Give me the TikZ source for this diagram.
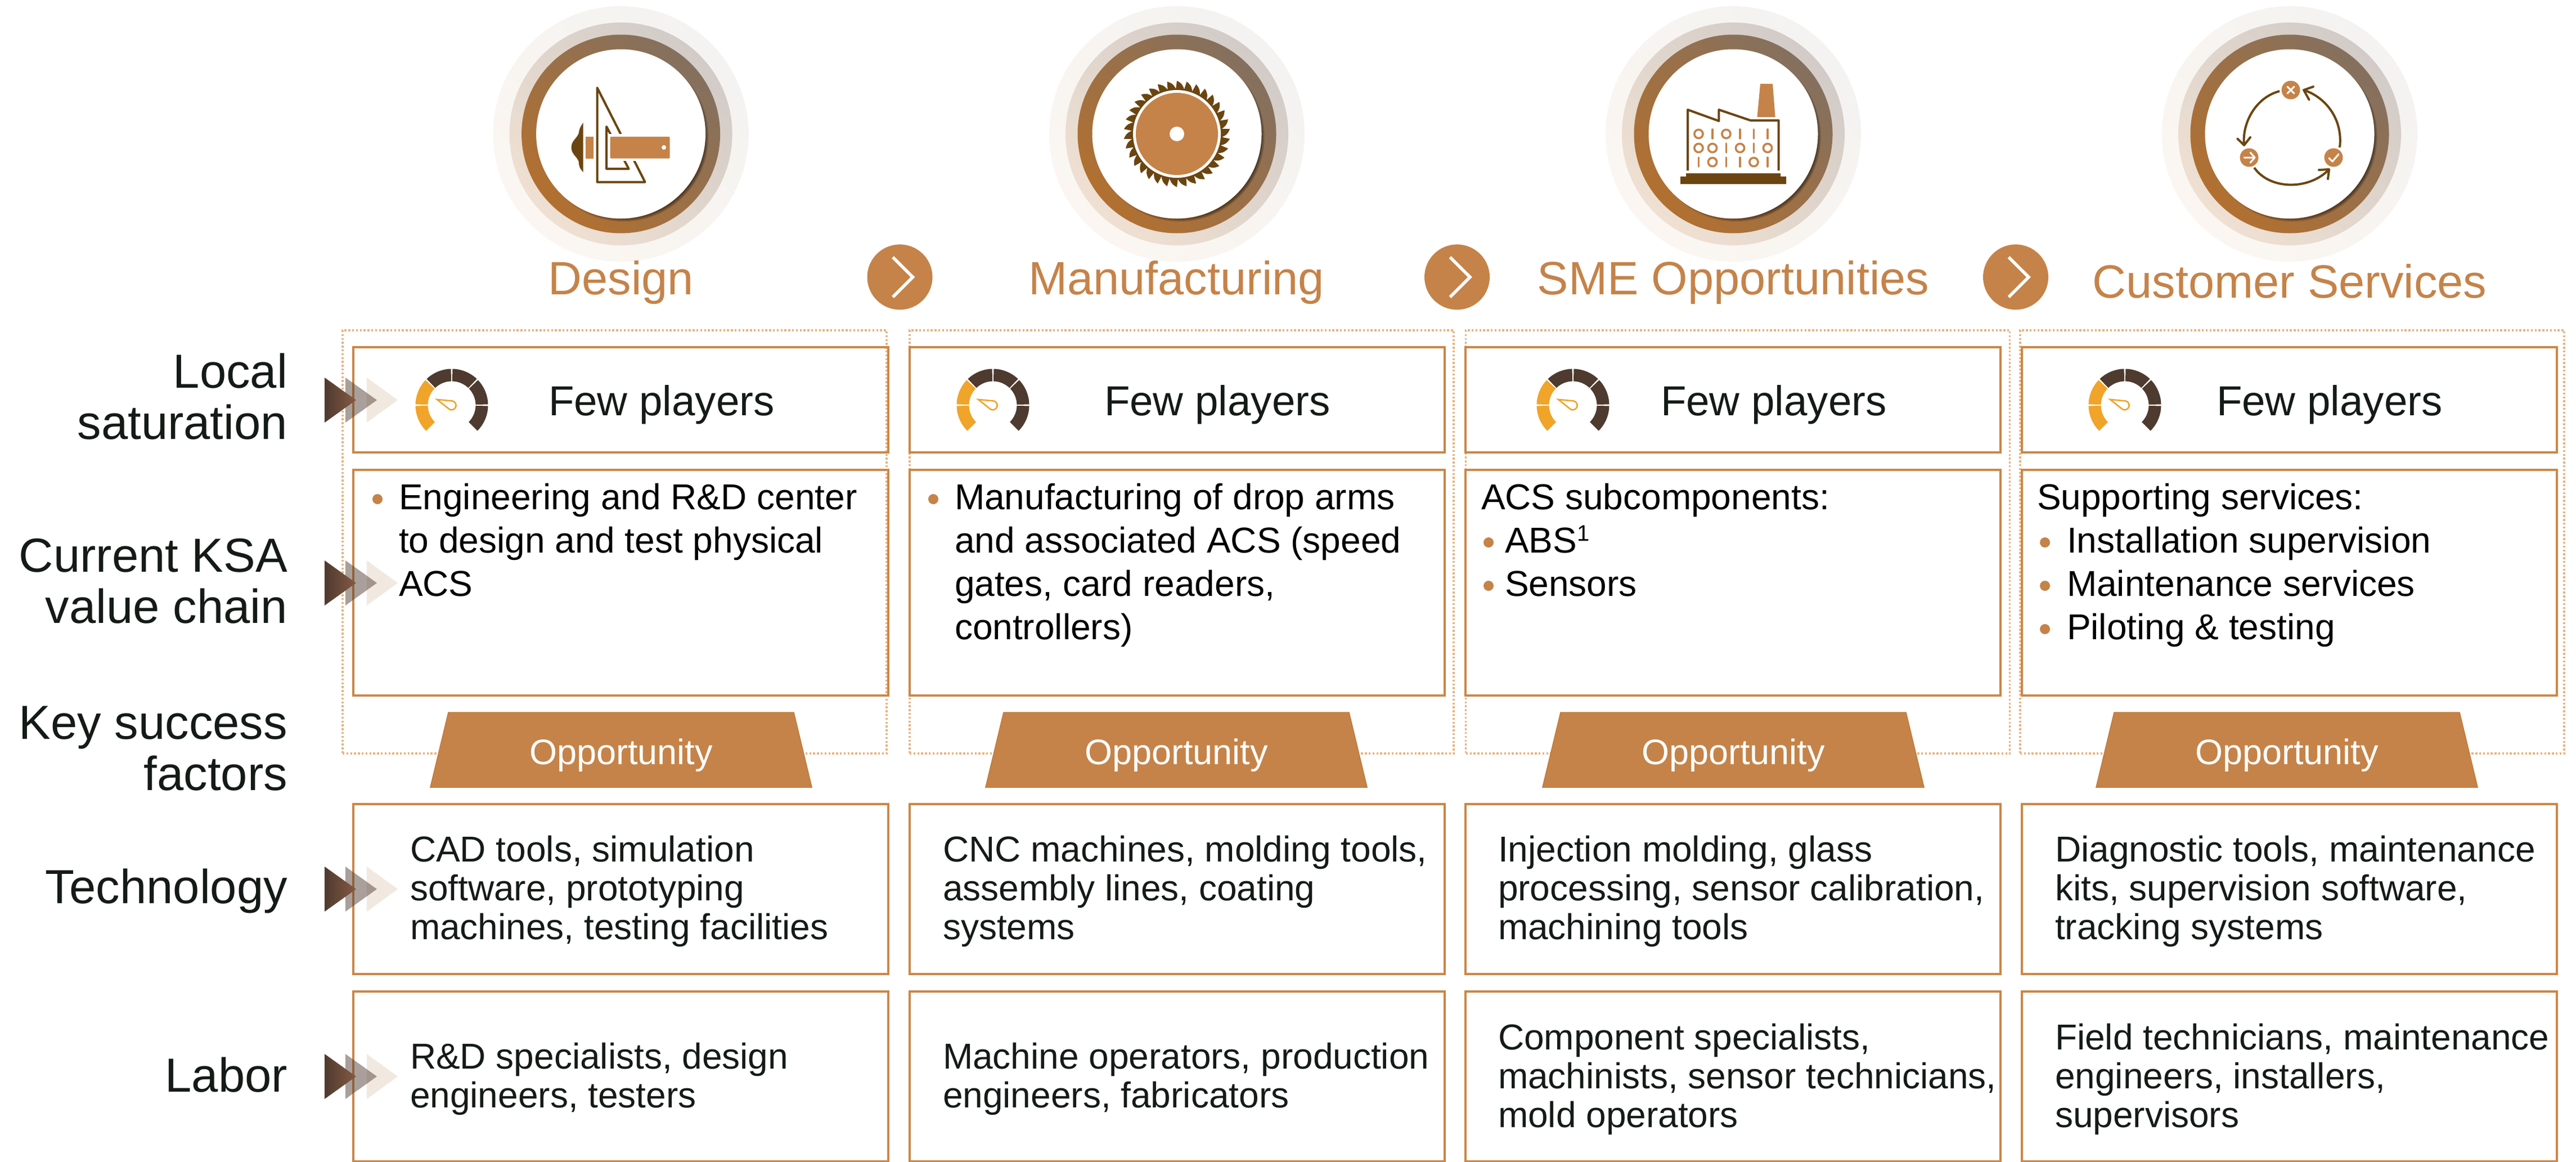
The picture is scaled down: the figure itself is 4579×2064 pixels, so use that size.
\documentclass[tikz,border=0pt]{standalone}
\usepackage{fontspec}
\setmainfont{Liberation Sans}
\definecolor{cOrange}{HTML}{C58349}
\definecolor{cLine}{HTML}{CB8748}
\definecolor{cDot}{HTML}{E9B27E}
\definecolor{cTrapEdge}{HTML}{C07A38}
\definecolor{cBrown}{HTML}{6B4510}
\definecolor{cInk}{HTML}{141B17}
\definecolor{cGaugeA}{HTML}{F0A42A}
\definecolor{cGaugeB}{HTML}{4E3A2E}
\definecolor{cRingOneA}{HTML}{F4F3F1}
\definecolor{cRingOneB}{HTML}{FBF6F1}
\definecolor{cRingTwoA}{HTML}{D2CBC7}
\definecolor{cRingTwoB}{HTML}{EFE0D2}
\definecolor{cRingThreeA}{HTML}{84705F}
\definecolor{cRingThreeB}{HTML}{B27030}
\definecolor{cChevA}{HTML}{4E3A2E}
\definecolor{cChevB}{HTML}{865A45}
\definecolor{cChevC}{HTML}{EFE6DB}
\tikzset{
  x=1pt,y=-1pt,
  cellbox/.style={draw=cLine,line width=3.5pt,anchor=north west,inner sep=0pt,outer sep=0pt,rectangle},
  dotbox/.style={draw=cDot,line width=3.2pt,dash pattern=on 3.4pt off 3.4pt,anchor=north west,inner sep=0pt,outer sep=0pt,rectangle},
  bodytext/.style={inner sep=0pt,outer sep=0pt,anchor=base west,align=left,text=cInk,font=\fontsize{64}{69}\selectfont},
  itemtext/.style={inner sep=0pt,outer sep=0pt,anchor=base west,align=left,text=black,font=\fontsize{64}{77}\selectfont},
  sidetext/.style={inner sep=0pt,outer sep=0pt,anchor=base east,align=right,text=cInk,font=\fontsize{85}{91}\selectfont},
  titletext/.style={inner sep=0pt,outer sep=0pt,anchor=base,text=cOrange,font=\fontsize{83}{90}\selectfont},
  fewtext/.style={inner sep=0pt,outer sep=0pt,anchor=base west,text=cInk,font=\fontsize{74.5}{80}\selectfont},
  opptext/.style={inner sep=0pt,outer sep=0pt,anchor=base,text=white,font=\fontsize{63}{70}\selectfont},
  nextdisc/.style={circle,fill=cOrange,minimum size=116pt,inner sep=0pt,outer sep=0pt},
  bulletdot/.style={fill=cOrange},
  iconline/.style={draw=cBrown,line width=4pt,line join=round,line cap=round},
}
% rings behind each icon
\newcommand{\ringset}[1]{%
  \shade[top color=cRingOneA,bottom color=cRingOneB,shading angle=-45] (#1,238) circle (227);
  \shade[top color=cRingTwoA,bottom color=cRingTwoB,shading angle=-45] (#1,238) circle (198);
  \shade[top color=cRingThreeA,bottom color=cRingThreeB,shading angle=-45] (#1,238) circle (176.5);
  \foreach \i in {0,...,8}{\fill[black,opacity=.09] (#1+5,243) circle ({143+\i});}
  \fill[white] (#1,238) circle (150.5);
}
\newcommand{\chevrons}[1]{%
  \fill[fill=cChevC,opacity=.85] (652,#1-40) -- (707,#1) -- (652,#1+40) -- cycle;
  \fill[fill=cGaugeB,opacity=.48] (614,#1-40) -- (670,#1) -- (614,#1+40) -- cycle;
  \shade[left color=cChevA,right color=cChevB,shading angle=90] (577,#1-40) -- (633,#1) -- (577,#1+40) -- cycle;
}
\newcommand{\gauge}[1]{%
  \begin{scope}[shift={(#1,720)},y=1pt]
    \foreach \p/\q/\c in {136.3/178.7/cGaugeA,181.3/225/cGaugeA,91.3/133.7/cGaugeB,46.3/88.7/cGaugeB,1.3/43.7/cGaugeB,-45/-1.3/cGaugeB}{
      \fill[\c] (\p:64.5) arc (\p:\q:64.5) -- (\q:42.5) arc (\q:\p:42.5) -- cycle;
    }
    \draw[cGaugeA,line width=2.6pt,line join=miter,fill=white] (-26,10) -- (1,7.5) arc (80:-140:8) -- cycle;
  \end{scope}%
}
\begin{document}
\begin{tikzpicture}
\useasboundingbox (0,0) rectangle (4579,2064);
\clip (0,0) rectangle (4579,2064);
\fill[white] (0,0) rectangle (4579,2064);

% rings
\ringset{1103.6}\ringset{2092}\ringset{3081}\ringset{4070}

% Design icon
\begin{scope}[shift={(1103.6,238)}]
  \fill[cBrown] (-67,-20) .. controls (-74,-10) and (-74,-6) .. (-75,-1) .. controls (-78,8) and (-88,12) .. (-88,24) .. controls (-88,36) and (-78,40) .. (-75,49) .. controls (-74,58) and (-74,60) .. (-67,68) -- cycle;
  \draw[iconline] (-42,-82) -- (-42,85.5) -- (43,85.5) -- cycle;
  \draw[iconline] (-25.5,-13) -- (-25.5,62) -- (14,62) -- cycle;
  \fill[white] (-21,0) rectangle (95,48);
  \fill[cOrange] (-63,5) rectangle (-48.5,43.7);
  \fill[cOrange,rounded corners=1.5pt] (-19,5) rectangle (87,43.7);
  \fill[white] (76.5,24) circle (4);
\end{scope}

% Saw icon
\begin{scope}[shift={(2092,238)}]
  \fill[cBrown] (0,0) circle (81);
  \foreach \i in {0,...,33}{
    \pgfmathsetmacro{\a}{\i*10.588-90}
    \fill[cBrown] ({\a-1.5}:78) .. controls ({\a-1}:86) .. ({\a}:94.5) .. controls ({\a+5}:91) and ({\a+8.5}:86) .. ({\a+9.5}:78) -- cycle;
  }
  \fill[white] (0,0) circle (78);
  \fill[cOrange] (0,0) circle (73);
  \fill[white] (0,0) circle (13);
\end{scope}

% Factory icon
\begin{scope}[shift={(3081,238)}]
  \draw[cBrown,line width=4pt,line join=round] (-81,65) -- (-81,-43) -- (-25.6,-23) -- (-25.6,-43) -- (30.6,-24) -- (80.7,-24) -- (80.7,65);
  \fill[cOrange] (48,-89) -- (70,-89) -- (74.6,-30) -- (42.5,-30) -- cycle;
  \fill[cBrown] (-84,70) -- (84,70) -- (84,75.7) -- (94,75.7) -- (94,89) -- (-94,89) -- (-94,75.7) -- (-84,75.7) -- cycle;
  \foreach \px/\py in {-61.6/0,-12.6/0,-61.6/25,-37/25,12/25,61/25,-37/50,36.4/50}{
    \draw[cOrange,line width=3.6pt] (\px,\py) circle (7.6);
  }
  \foreach \px/\py in {-37/0,12/0,36.4/0,61/0,-12.6/25,36.4/25,-61.6/50,-12.6/50,12/50,61/50}{
    \draw[cOrange,line width=3.6pt,line cap=round] (\px,\py-8) -- (\px,\py+8);
  }
\end{scope}

% Cycle icon
\begin{scope}[shift={(4070,238)}]
  \draw[iconline,line cap=butt] (-18,-76) .. controls (-60,-65) and (-85,-20) .. (-81,20);
  \draw[iconline] (-92.6,8.7) -- (-81,20) -- (-70,6);
  \draw[iconline,line cap=butt] (89,24) .. controls (95,-25) and (65,-65) .. (25,-78);
  \draw[iconline] (42,-84) -- (25,-78) -- (34.4,-61);
  \draw[iconline,line cap=butt] (-63,60) .. controls (-35,100) and (35,100) .. (70,63);
  \draw[iconline] (52,64) -- (70,63) -- (68,80);
  \fill[cOrange] (2,-78) circle (16.5);
  \fill[cOrange] (-72,42) circle (16.5);
  \fill[cOrange] (78,42) circle (16.5);
  \draw[white,line width=3pt,line cap=round] (-4,-84) -- (8,-72) (8,-84) -- (-4,-72);
  \draw[white,line width=3pt,line cap=round,line join=round] (-81,42) -- (-62,42) (-70,33) -- (-62,42) -- (-70,51);
  \draw[white,line width=3pt,line cap=round,line join=round] (70,43) -- (76,49) -- (87,36);
\end{scope}

% dotted frames
\node[dotbox,minimum width=967pt,minimum height=752pt] (frameA) at (609,587) {};
\node[dotbox,minimum width=967pt,minimum height=752pt] (frameB) at (1617,587) {};
\node[dotbox,minimum width=967pt,minimum height=752pt] (frameC) at (2605.7,587) {};
\node[dotbox,minimum width=967pt,minimum height=752pt] (frameD) at (3591,587) {};

% cells
\foreach \n/\cx in {A/628,B/1617,C/2605,D/3594}{
  \node[cellbox,minimum width=951pt,minimum height=187pt] (sat\n) at (\cx,617) {};
  \node[cellbox,minimum width=951pt,minimum height=401pt] (chain\n) at (\cx,835) {};
  \node[cellbox,minimum width=951pt,minimum height=302pt] (tech\n) at (\cx,1429) {};
  \node[cellbox,minimum width=951pt,minimum height=302pt] (labor\n) at (\cx,1762) {};
}

% opportunity banners
\foreach \n/\cx in {A/1104,B/2091,C/3081,D/4065}{
  \draw[fill=cOrange,draw=cTrapEdge,line width=1.5pt] (\cx-307,1266) -- (\cx+307,1266) -- (\cx+339,1399) -- (\cx-339,1399) -- cycle;
  \node[opptext] (opp\n) at (\cx,1358) {Opportunity};
}

% headings
\node[titletext] (headA) at (1104,523) {Design};
\node[titletext] (headB) at (2091,523) {Manufacturing};
\node[titletext] (headC) at (3081,523) {SME Opportunities};
\node[titletext] (headD) at (4070,529) {Customer Services};

% next discs
\foreach \n/\cx in {A/1599.5,B/2590,C/3583}{
  \node[nextdisc] (next\n) at (\cx,492.4) {};
  \draw[white,line width=5.5pt] (\cx-12.5,457) -- (\cx+23,492.4) -- (\cx-12.5,528);
}

% side labels
\node[sidetext] (sideA) at (511,780) {Local\\saturation};
\node[sidetext] (sideB) at (511,1107) {Current KSA\\value chain};
\node[sidetext] (sideC) at (511,1404) {Key success\\factors};
\node[sidetext] (sideD) at (511,1605) {Technology};
\node[sidetext] (sideE) at (511,1940) {Labor};

% chevron groups
\chevrons{711}\chevrons{1036}\chevrons{1580}\chevrons{1913}

% saturation row
\gauge{803}\gauge{1765}\gauge{2796}\gauge{3777}
\node[fewtext] (fewA) at (975,738) {Few players};
\node[fewtext] (fewB) at (1963,738) {Few players};
\node[fewtext] (fewC) at (2952,738) {Few players};
\node[fewtext] (fewD) at (3940,738) {Few players};

% value chain row
\fill[bulletdot] (671,887) circle (9);
\node[itemtext] (itemA) at (709,1059) {Engineering and R\&D center\\to design and test physical\\ACS};
\fill[bulletdot] (1659,887) circle (9);
\node[itemtext] (itemB) at (1697,1136) {Manufacturing of drop arms\\and associated ACS (speed\\gates, card readers,\\controllers)};
\node[itemtext] (itemCa) at (2633,905) {ACS subcomponents:};
\fill[bulletdot] (2646,964) circle (9);
\fill[bulletdot] (2646,1041) circle (9);
\node[itemtext] (itemCb) at (2675,1059) {ABS\raisebox{21pt}{\fontsize{40}{40}\selectfont 1}\\Sensors};
\node[itemtext] (itemDa) at (3621,905) {Supporting services:};
\fill[bulletdot] (3635,964) circle (9);
\fill[bulletdot] (3635,1041) circle (9);
\fill[bulletdot] (3635,1118) circle (9);
\node[itemtext] (itemDb) at (3674,1136) {Installation supervision\\Maintenance services\\Piloting \& testing};

% technology row
\node[bodytext] (techTa) at (729,1669) {CAD tools, simulation\\software, prototyping\\machines, testing facilities};
\node[bodytext] (techTb) at (1676,1669) {CNC machines, molding tools,\\assembly lines, coating\\systems};
\node[bodytext] (techTc) at (2663,1669) {Injection molding, glass\\processing, sensor calibration,\\machining tools};
\node[bodytext] (techTd) at (3653,1669) {Diagnostic tools, maintenance\\kits, supervision software,\\tracking systems};

% labor row
\node[bodytext] (labTa) at (729,1968) {R\&D specialists, design\\engineers, testers};
\node[bodytext] (labTb) at (1676,1968) {Machine operators, production\\engineers, fabricators};
\node[bodytext] (labTc) at (2663,2003) {Component specialists,\\machinists, sensor technicians,\\mold operators};
\node[bodytext] (labTd) at (3653,2003) {Field technicians, maintenance\\engineers, installers,\\supervisors};
\end{tikzpicture}
\end{document}
